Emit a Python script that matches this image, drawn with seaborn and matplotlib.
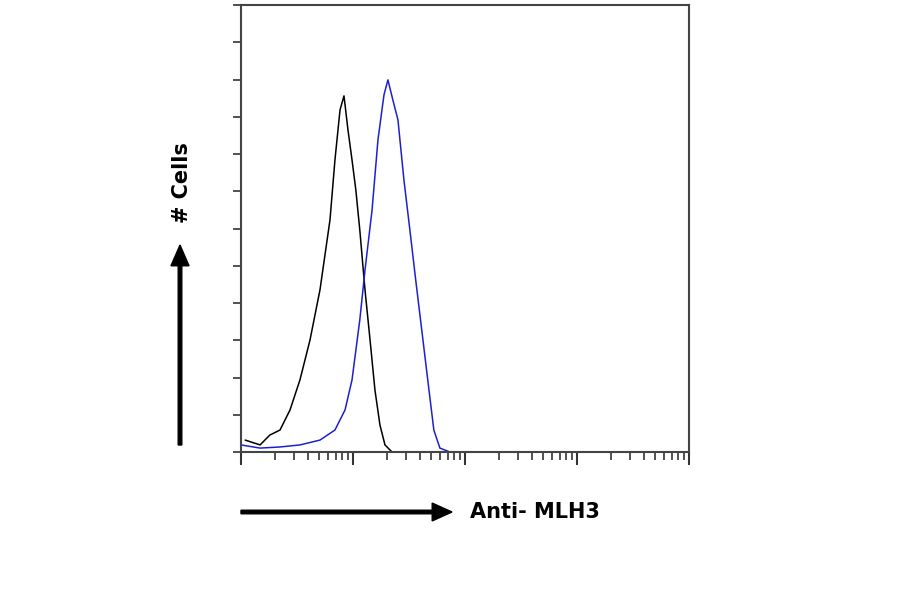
import matplotlib
matplotlib.use("Agg")
import matplotlib.pyplot as plt
import seaborn as sns
import pandas as pd
import numpy as np

iso_x = [1.09,1.48,1.81,2.23,2.74,3.36,4.13,5.07,6.23,6.9,7.66,8.31,9.02,9.8,10.6,11.5,12.8,14.2,15.7,17.4,19.3,22.3]
iso_y = [6.4,3.8,9.1,11.8,22.6,38.7,60.1,87,124.6,156.8,183.7,191.2,172.9,156.8,140.7,119.2,87,60.1,33.3,14.5,3.8,0]
ab_x = [1.0,1.48,2.23,3.36,5.07,6.9,8.49,9.8,11.5,12.8,14.8,16.7,18.9,20.5,22.7,25.2,28.5,32.2,36.3,41.1,46.5,52.7,59.7,73.3]
ab_y = [3.8,2.1,2.7,3.8,6.4,11.8,22.6,38.7,70.9,97.7,130,167.5,191.7,199.8,189,178.3,146,119.2,92.4,65.5,38.7,11.8,2.1,0]

sns.set_theme(style="white")
fig = plt.figure(figsize=(9, 5.94), dpi=100)
ax = fig.add_axes([241/900, 1-452/594, 448/900, 447/594])
sns.lineplot(data=pd.DataFrame({"x": iso_x, "y": iso_y}), x="x", y="y", ax=ax,
             color="black", lw=1.1, sort=False, estimator=None)
sns.lineplot(data=pd.DataFrame({"x": ab_x, "y": ab_y}), x="x", y="y", ax=ax,
             color="#1f1fd0", lw=1.1, sort=False, estimator=None)
ax.set_xscale("log")
ax.set_xlim(1, 1e4)
ax.set_ylim(0, 240)
ax.set_xlabel(""); ax.set_ylabel("")
ax.set_yticks(np.arange(0, 241, 20))
ax.set_yticklabels([])
ax.set_xticklabels([], minor=True)
ax.set_xticklabels([])
ax.tick_params(axis="y", direction="out", length=6, width=1.2, color="#333", left=True)
ax.tick_params(axis="x", which="major", direction="out", length=9, width=1.5, color="#333", bottom=True)
ax.tick_params(axis="x", which="minor", direction="out", length=6, width=1.2, color="#333", bottom=True)
for s in ax.spines.values():
    s.set_color("#444"); s.set_linewidth(1.5)

fig.patches.append(matplotlib.patches.FancyArrow(180/900, 1-445/594, 0, (445-245)/594,
    width=0.004, head_width=0.02, head_length=0.035, color="black", transform=fig.transFigure, length_includes_head=True))
fig.patches.append(matplotlib.patches.FancyArrow(241/900, 1-512/594, (452-241)/900, 0,
    width=0.006, head_width=0.03, head_length=0.022, color="black", transform=fig.transFigure, length_includes_head=True))
fig.text(182/900, 1-183/594, "# Cells", rotation=90, ha="center", va="center", fontsize=15, fontweight="bold", color="black")
fig.text(470/900, 1-512/594, "Anti- MLH3", ha="left", va="center", fontsize=15, fontweight="bold", color="black")
fig.savefig("out.png", dpi=100)
